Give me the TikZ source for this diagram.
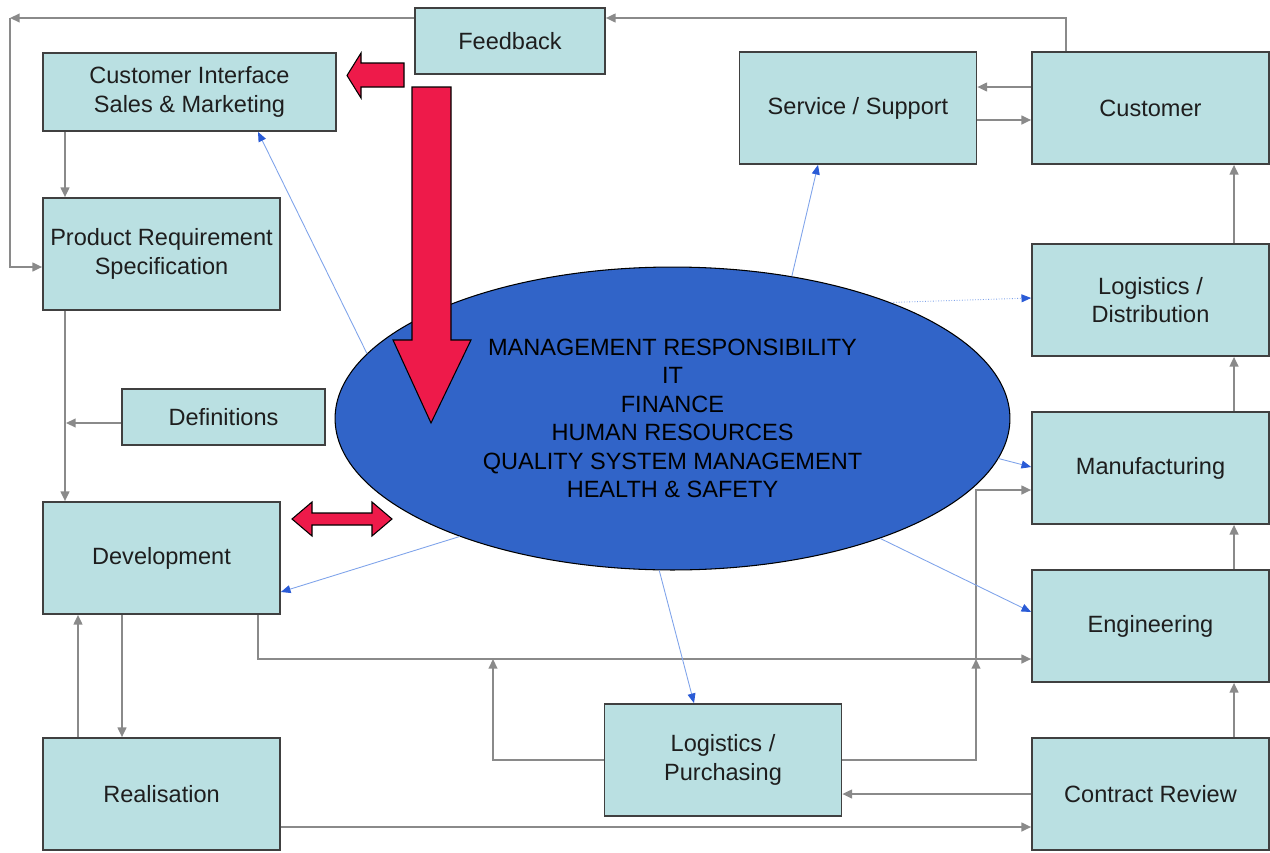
\documentclass[tikz,border=0pt]{standalone}
\usepackage{fontspec}
\setmainfont{Liberation Sans}
\usetikzlibrary{shapes.geometric,arrows.meta}
\definecolor{boxfill}{HTML}{BAE0E2}
\definecolor{boxline}{HTML}{404040}
\definecolor{linkgray}{HTML}{8A8A8A}
\definecolor{flowblue}{HTML}{7FA3EA}
\definecolor{tipblue}{HTML}{2A5BD6}
\definecolor{ovalblue}{HTML}{3164C8}
\definecolor{arrowred}{HTML}{EE1A4A}
\definecolor{txt}{HTML}{1E1E1E}

\begin{document}
\begin{tikzpicture}[x=0.02cm,y=-0.02cm,
            box/.style={draw=boxline,fill=boxfill,line width=1pt,align=center,inner sep=0pt,
              minimum width=4.74cm,minimum height=2.24cm,text=txt,
              font=\fontsize{13.4}{16.2}\selectfont},
            link/.style={draw=linkgray,line width=0.9pt,-{Triangle[length=5.5pt,width=5pt]}},
            flow/.style={draw=flowblue,line width=0.5pt,-{Triangle[length=5.5pt,width=4.5pt,color=tipblue]}},
            bigarrow/.style={fill=arrowred,draw=black,line width=0.6pt,line join=miter}]
            \useasboundingbox (0,0) rectangle (1270,852);
            \node[ellipse,draw=black,line width=0.6pt,fill=ovalblue,inner sep=0pt,minimum width=13.5cm,
              minimum height=6.06cm,align=center,text=black,font=\fontsize{13.4}{16.2}\selectfont]
              (mgmt) at (672.5,418.5) {MANAGEMENT RESPONSIBILITY\\IT\\FINANCE\\HUMAN RESOURCES\\QUALITY SYSTEM MANAGEMENT\\HEALTH \& SAFETY};
            \node[box,minimum width=3.8cm,minimum height=1.32cm] (fb) at (510,41) {Feedback};
            \node[box,minimum width=5.86cm,minimum height=1.56cm] (ci) at (189.5,92) {Customer Interface\\Sales \& Marketing};
            \node[box] (prs) at (161.5,254) {Product Requirement\\Specification};
            \node[box,minimum width=4.06cm,minimum height=1.12cm] (defn) at (223.5,417) {Definitions};
            \node[box] (dev) at (161.5,558) {Development};
            \node[box] (real) at (161.5,794) {Realisation};
            \node[box] (svc) at (858,108) {Service / Support};
            \node[box] (cus) at (1150.5,108) {Customer};
            \node[box] (ld) at (1150.5,300) {Logistics /\\Distribution};
            \node[box] (manu) at (1150.5,468) {Manufacturing};
            \node[box] (eng) at (1150.5,626) {Engineering};
            \node[box] (cr) at (1150.5,794) {Contract Review};
            \node[box] (lp) at (723,760) {Logistics /\\Purchasing};
            \coordinate (fbturn) at (10,18);
            \coordinate (spine) at (66,423);
            \coordinate (lpleft) at (493,659);
            \coordinate (lpright) at (976,659);
            \draw[link] (cus.north -| 1066,0) |- (fb.east |- 0,18);
            \draw[link] (fb.west |- 0,18) -- (fbturn);
            \draw[link] (fbturn) |- (prs.west |- 0,267);
            \draw[link] (ci.south -| 65,0) -- (prs.north -| 65,0);
            \draw[link] (prs.south -| 65,0) -- (dev.north -| 65,0);
            \draw[link] (defn.west |- spine) -- (spine);
            \draw[link] (dev.south -| 122,0) -- (real.north -| 122,0);
            \draw[link] (real.north -| 78,0) -- (dev.south -| 78,0);
            \draw[link] (dev.south -| 258,0) |- (eng.west |- 0,659);
            \draw[link] (lp.west) -| (lpleft);
            \draw[link] (lp.east) -| (lpright);
            \draw[link] (lpright) |- (manu.west |- 0,490);
            \draw[link] (cr.west) -- (lp.east |- cr.west);
            \draw[link] (real.east |- 0,827) -- (cr.west |- 0,827);
            \draw[link] (cr.north -| 1234,0) -- (eng.south -| 1234,0);
            \draw[link] (eng.north -| 1234,0) -- (manu.south -| 1234,0);
            \draw[link] (manu.north -| 1234,0) -- (ld.south -| 1234,0);
            \draw[link] (ld.north -| 1234,0) -- (cus.south -| 1234,0);
            \draw[link] (cus.west |- 0,87) -- (svc.east |- 0,87);
            \draw[link] (svc.east |- 0,120) -- (cus.west |- 0,120);
            \draw[flow] (mgmt.168) -- (ci.south -| 258,0);
            \draw[flow] (mgmt.209) -- (dev.east |- 0,592);
            \draw[flow] (mgmt.50) -- (svc.south -| 818,0);
            \draw[flow,densely dotted] (mgmt.28) -- (ld.west |- 0,298);
            \draw[flow] (mgmt.353) -- (manu.west |- 0,467);
            \draw[flow] (mgmt.330) -- (eng.west |- 0,612);
            \draw[flow] (mgmt.265) -- (lp.north -| 694,0);
            \draw[bigarrow] (404,63) -- (361,63) -- (361,53) -- (347,75.5) -- (361,98) -- (361,87) -- (404,87) -- cycle;
            \draw[bigarrow] (412,87) -- (451,87) -- (451,340) -- (471,340) -- (431,423) -- (393,340) -- (412,340) -- cycle;
            \draw[bigarrow] (292,519) -- (312,502) -- (312,513) -- (372,513) -- (372,502) -- (392,519)
              -- (372,536) -- (372,525) -- (312,525) -- (312,536) -- cycle;
        \end{tikzpicture}
\end{document}
